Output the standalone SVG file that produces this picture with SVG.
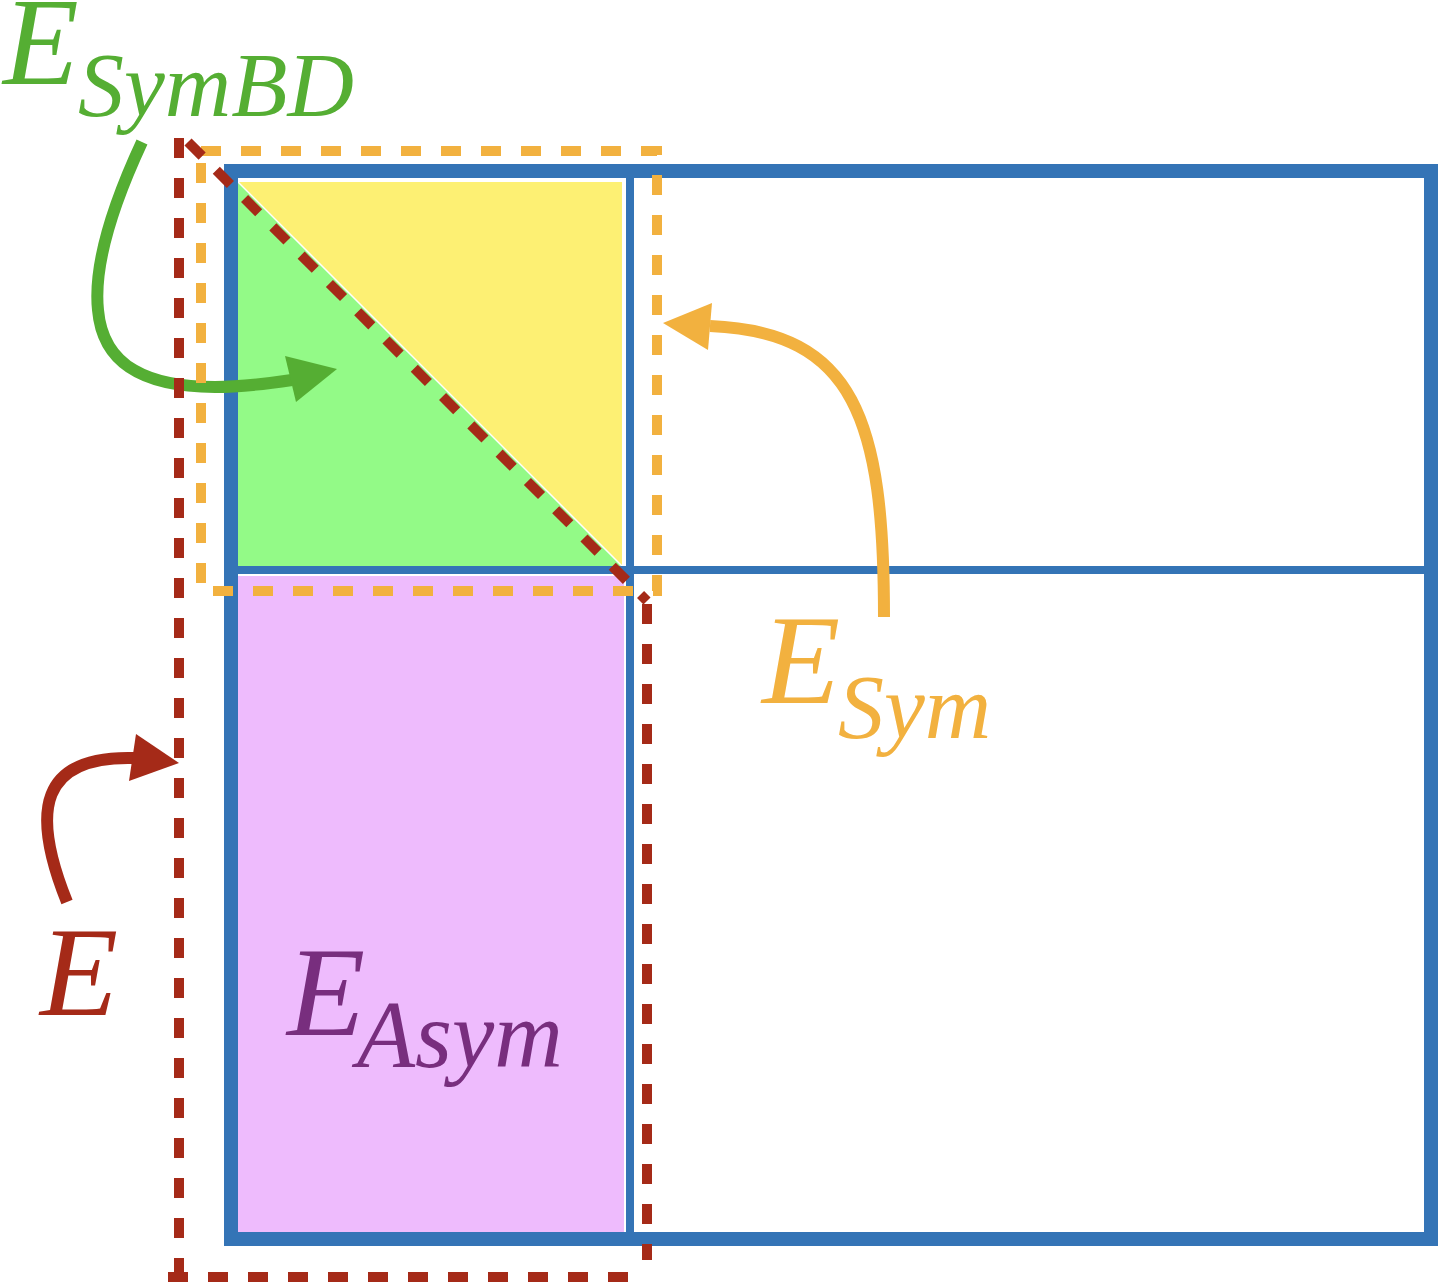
<svg xmlns="http://www.w3.org/2000/svg" width="1440" height="1284" viewBox="0 0 1440 1284">
<style>
.lbl{font-family:"Liberation Serif","Times New Roman",serif;font-style:italic}
.big{font-size:128px}
.sub{font-size:92px}
.blue{fill:none;stroke:#3474B6}
.dash{fill:none;stroke-width:10;stroke-dasharray:20 20;stroke-linecap:butt}
.arrow{fill:none;stroke-width:12;stroke-linecap:butt}
</style>
<rect width="1440" height="1284" fill="#FFFFFF"/>
<g id="region-sym-upper">
<rect x="238" y="182" width="384" height="384" fill="#FDF073"/>
</g>
<g id="region-symbd">
<polygon points="238,182 238,566 622,566" fill="#93FA87"/>
<line x1="238" y1="182" x2="622" y2="566" stroke="#FFFFFF" stroke-width="1.5"/>
</g>
<g id="region-asym">
<rect x="238" y="576" width="386" height="656" fill="#EEBBFD"/>
</g>
<g id="matrix">
<rect class="blue" x="231" y="171" width="1200" height="1068" stroke-width="14"/>
<line class="blue" x1="630" y1="178" x2="630" y2="1232" stroke-width="8"/>
<line class="blue" x1="238" y1="570" x2="1424" y2="570" stroke-width="8"/>
</g>
<g id="connectors">
<path class="arrow" stroke="#55AE33" d="M142,142 C115,200 93,262 98,310 C103,368 150,387 215,387 C245,387 272,383 292,380"/>
<polygon points="337,369 285,356 296,402" fill="#55AE33"/>
<path class="arrow" stroke="#F2B13F" d="M884,617 C884,420 855,332 710,326"/>
<polygon points="663,323 712,303 708,350" fill="#F2B13F"/>
<path class="arrow" stroke="#A52A18" d="M67,902 C30,810 40,755 135,758"/>
<polygon points="179,763 136,734 129,781" fill="#A52A18"/>
</g>
<g id="box-esym">
<rect class="dash" x="201" y="151" width="456" height="440" stroke="#F2B13F"/>
</g>
<g id="box-e">
<line class="dash" stroke="#A52A18" x1="179" y1="138" x2="179" y2="1278"/>
<line class="dash" stroke="#A52A18" x1="168" y1="1277" x2="628" y2="1277"/>
<line class="dash" stroke="#A52A18" x1="188" y1="142" x2="647" y2="601"/>
<line class="dash" stroke="#A52A18" x1="647" y1="604" x2="647" y2="1260"/>
</g>
<g id="label-esymbd" fill="#55AE33">
<text class="lbl" x="3" y="84" font-size="124">E</text>
<text class="lbl sub" x="78" y="116">SymBD</text>
</g>
<g id="label-esym" fill="#F2B13F">
<text class="lbl big" x="762" y="703">E</text>
<text class="lbl sub" x="838" y="738">Sym</text>
</g>
<g id="label-easym" fill="#782E7E">
<text class="lbl big" x="287" y="1035">E</text>
<text class="lbl" x="357" y="1067" font-size="95">Asym</text>
</g>
<g id="label-e" fill="#A52A18">
<text class="lbl big" x="40" y="1015">E</text>
</g>
</svg>
